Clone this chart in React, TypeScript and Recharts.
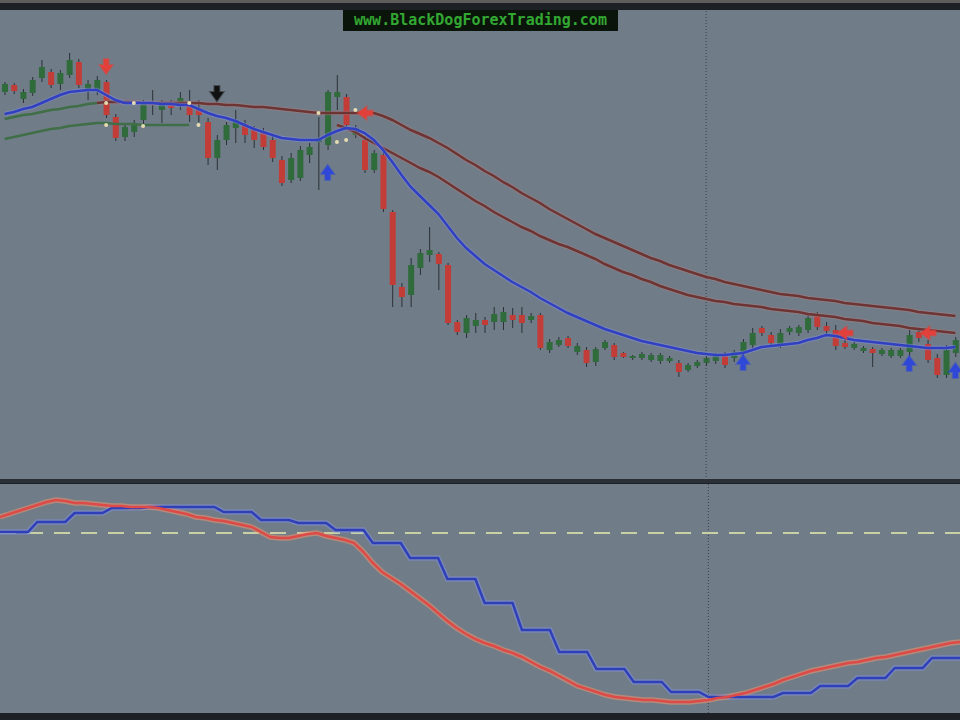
import { ComposedChart, Bar, Line, XAxis, YAxis, ReferenceLine } from 'recharts'

// price panel, one entry per bar (levels in pips above the panel floor)
const CANDLE_OPEN = [
  388, 395, 381, 387, 402, 408, 396, 405, 418, 389,
  390, 398, 363, 343, 348, 360, 378, 370, 377, 374,
  378, 372, 358, 322, 340, 352, 356, 350, 348, 340,
  320, 300, 302, 325, 338, 335, 383, 383, 345, 340,
  310, 325, 268, 193, 185, 212, 225, 226, 215, 158,
  147, 154, 160, 158, 158, 165, 165, 160, 165, 130,
  135, 142, 128, 130, 118, 132, 135, 127, 122, 122,
  120, 119, 119, 117, 110, 114, 117, 119, 125, 122,
  128, 135, 152, 145, 135, 148, 147, 150, 164, 154,
  150, 137, 132, 129, 131, 126, 124, 124, 128, 148,
  136, 122, 105, 127,
]
const CANDLE_HIGH = [
  398, 397, 391, 403, 420, 411, 410, 427, 421, 400,
  404, 400, 366, 356, 360, 380, 390, 380, 380, 388,
  390, 380, 362, 345, 358, 370, 360, 354, 352, 344,
  324, 327, 334, 337, 363, 390, 405, 386, 355, 344,
  330, 328, 270, 197, 222, 231, 253, 228, 217, 160,
  165, 167, 163, 173, 173, 172, 173, 167, 167, 141,
  143, 144, 137, 133, 133, 140, 137, 128, 125, 128,
  127, 127, 124, 120, 117, 120, 124, 127, 128, 130,
  141, 152, 154, 148, 151, 154, 155, 166, 168, 158,
  155, 140, 138, 134, 133, 132, 132, 132, 150, 152,
  140, 126, 135, 143,
]
const CANDLE_LOW = [
  385, 386, 377, 384, 398, 392, 390, 402, 392, 380,
  385, 362, 339, 339, 343, 356, 365, 357, 365, 370,
  358, 358, 315, 310, 335, 337, 337, 332, 330, 318,
  294, 297, 299, 317, 290, 330, 370, 352, 342, 307,
  307, 268, 173, 173, 173, 205, 218, 190, 155, 145,
  142, 147, 147, 150, 150, 152, 147, 157, 130, 127,
  133, 132, 125, 113, 114, 130, 120, 122, 120, 120,
  118, 116, 117, 103, 108, 112, 114, 116, 112, 118,
  124, 132, 144, 134, 132, 145, 144, 147, 150, 146,
  130, 131, 130, 127, 113, 124, 122, 122, 124, 138,
  117, 102, 102, 123,
]
const CANDLE_CLOSE = [
  396, 389, 388, 400, 413, 395, 407, 420, 395, 396,
  400, 365, 342, 353, 357, 378, 375, 376, 372, 382,
  365, 365, 322, 340, 355, 360, 345, 340, 333, 322,
  297, 322, 330, 333, 342, 388, 388, 355, 352, 310,
  327, 271, 195, 183, 215, 227, 230, 216, 157, 148,
  162, 160, 155, 166, 168, 160, 157, 164, 132, 138,
  140, 134, 134, 117, 131, 138, 123, 123, 124, 126,
  125, 125, 122, 108, 115, 118, 122, 125, 115, 128,
  138, 147, 147, 137, 147, 152, 153, 162, 153, 149,
  134, 133, 136, 132, 127, 130, 130, 130, 145, 142,
  120, 105, 130, 140,
]

// fast moving average (blue)
const MA_FAST = [
  366, 368, 371, 373, 377, 381, 385, 388, 389, 390,
  390, 385, 380, 377, 377, 377, 377, 376, 376, 375,
  375, 371, 367, 364, 362, 359, 355, 351, 348, 345,
  342, 341, 340, 340, 340, 345, 349, 352, 351, 347,
  340, 330, 318, 305, 293, 284, 275, 266, 254, 242,
  232, 224, 216, 210, 204, 198, 193, 188, 182, 177,
  172, 167, 163, 159, 155, 151, 148, 145, 142, 139,
  137, 135, 133, 131, 129, 127, 126, 125, 125, 126,
  127, 130, 133, 134, 135, 136, 137, 140, 142, 145,
  144, 142, 140, 139, 138, 137, 136, 135, 134, 133,
  132, 132, 132, 133,
]

// slow averages, green while rising, brown while falling
const UP_GREEN_TO = 10
const UP_GREEN = [361, 363, 365, 366, 368, 370, 371, 373, 374, 376, 377]
const LO_GREEN_TO = 20
const LO_GREEN = [341, 343, 345, 347, 349, 351, 352, 354, 355, 356, 357, 357, 356, 356, 356, 355, 355, 355, 355, 355, 355]

const UP_BROWN_FROM = 10
const UP_BROWN = [
  377, 378, 378, 378, 378, 377, 377, 377, 377, 377,
  377, 377, 376, 376, 375, 375, 374, 373, 373, 372,
  371, 370, 369, 368, 367, 367, 367, 367, 367, 367,
  367, 364, 360, 355, 350, 346, 342, 337, 332, 326,
  320, 315, 309, 304, 298, 293, 287, 282, 277, 271,
  266, 261, 256, 251, 246, 242, 238, 234, 230, 226,
  222, 219, 215, 212, 209, 206, 203, 201, 198, 196,
  194, 192, 190, 188, 186, 185, 184, 182, 181, 180,
  179, 177, 176, 175, 174, 173, 172, 171, 170, 168,
  167, 166, 165, 164,
]
const LO_BROWN_FROM = 36
const LO_BROWN = [
  355, 352, 348, 342,
  337, 332, 327, 322, 317, 312, 308, 303, 297, 291,
  285, 279, 274, 268, 263, 258, 253, 249, 244, 240,
  236, 233, 229, 225, 221, 216, 212, 208, 205, 201,
  198, 194, 191, 188, 185, 183, 181, 179, 178, 176,
  175, 174, 173, 171, 170, 169, 168, 166, 165, 164,
  163, 161, 160, 159, 157, 156, 155, 154, 152, 151,
  150, 149, 148, 147,
]

// signal markers
const SELL_DOWN_BARS = [11]
const SELL_DOWN_LEVEL = [413]
const EXIT_DOWN_BARS = [23]
const EXIT_DOWN_LEVEL = [386]
const BUY_UP_BARS = [35, 80, 98, 103]
const BUY_UP_LEVEL = [308, 118, 117, 110]
const SELL_LEFT_BARS = [39, 91, 100]
const SELL_LEFT_LEVEL = [367, 147, 147]
const CROSS_HI_BARS = [11, 14, 20, 34, 38]
const CROSS_HI_LEVEL = [377, 377, 377, 367, 370]
const CROSS_LO_BARS = [11, 15, 21, 36, 37]
const CROSS_LO_LEVEL = [355, 354, 355, 338, 340]

// oscillator panel
const OSC_MAIN = [
  196, 199, 202, 205, 208, 211, 213, 212, 210, 210,
  209, 208, 207, 207, 206, 206, 206, 205, 203, 201,
  199, 196, 195, 193, 192, 190, 188, 186, 181, 176,
  175, 175, 177, 179, 180, 177, 175, 173, 170, 161,
  150, 141, 135, 129, 122, 115, 108, 100, 92, 85,
  79, 74, 70, 67, 63, 60, 56, 51, 46, 42,
  37, 32, 27, 24, 21, 18, 16, 15, 14, 13,
  13, 12, 11, 11, 11, 12, 13, 15, 16, 18,
  20, 23, 26, 29, 33, 36, 39, 42, 44, 46,
  48, 50, 51, 53, 55, 56, 58, 60, 62, 64,
  66, 68, 70, 71,
]
const OSC_SIGNAL = [
  181, 181, 181, 181, 191, 191, 191, 191, 200, 200,
  200, 200, 205, 205, 205, 205, 206, 206, 206, 206,
  206, 206, 206, 206, 201, 201, 201, 201, 193, 193,
  193, 193, 190, 190, 190, 190, 183, 183, 183, 183,
  170, 170, 170, 170, 155, 155, 155, 155, 134, 134,
  134, 134, 110, 110, 110, 110, 83, 83, 83, 83,
  61, 61, 61, 61, 44, 44, 44, 44, 31, 31,
  31, 31, 21, 21, 21, 21, 16, 16, 16, 16,
  16, 16, 16, 16, 20, 20, 20, 20, 27, 27,
  27, 27, 35, 35, 35, 35, 45, 45, 45, 45,
  55, 55, 55, 55,
]
const OSC_LEVEL = 180
const CURSOR_BAR = 76

const BG = '#707d88'
const DARK = '#1d2125'
const BULL = '#2f6b3b'
const BEAR = '#c33d38'
const WICK = '#2b3035'

const pick = (bars: number[], levels: number[], i: number) => {
  const k = bars.indexOf(i)
  return k >= 0 ? levels[k] : null
}

const rows = CANDLE_OPEN.map((o, i) => ({
  i,
  o,
  h: CANDLE_HIGH[i],
  l: CANDLE_LOW[i],
  c: CANDLE_CLOSE[i],
  fast: MA_FAST[i],
  upGreen: i <= UP_GREEN_TO ? UP_GREEN[i] : null,
  loGreen: i <= LO_GREEN_TO ? LO_GREEN[i] : null,
  upBrown: i >= UP_BROWN_FROM ? UP_BROWN[i - UP_BROWN_FROM] : null,
  loBrown: i >= LO_BROWN_FROM ? LO_BROWN[i - LO_BROWN_FROM] : null,
  sellDown: pick(SELL_DOWN_BARS, SELL_DOWN_LEVEL, i),
  exitDown: pick(EXIT_DOWN_BARS, EXIT_DOWN_LEVEL, i),
  buyUp: pick(BUY_UP_BARS, BUY_UP_LEVEL, i),
  sellLeft: pick(SELL_LEFT_BARS, SELL_LEFT_LEVEL, i),
  crossHi: pick(CROSS_HI_BARS, CROSS_HI_LEVEL, i),
  crossLo: pick(CROSS_LO_BARS, CROSS_LO_LEVEL, i),
  osc: OSC_MAIN[i],
  sig: OSC_SIGNAL[i],
}))

function Candle(props: any) {
  const { x, y, width, height, payload } = props
  if (x == null || y == null || !payload) return <g />
  const top = Math.min(y, y + height)
  const span = Math.abs(height)
  const { o, h, l, c } = payload
  const k = span / (h - l || 1)
  const py = (v: number) => top + (h - v) * k
  const bodyTop = py(Math.max(o, c))
  const bodyH = Math.max(1.5, py(Math.min(o, c)) - bodyTop)
  const cx = x + width / 2
  return (
    <g>
      <line x1={cx} x2={cx} y1={top} y2={top + span} stroke={WICK} strokeWidth={1} />
      <rect x={x} y={bodyTop} width={width} height={bodyH} fill={c >= o ? BULL : BEAR} />
    </g>
  )
}

const marker = (kind: string, color: string) => (props: any) => {
  const { cx, cy, index, value } = props
  if (cx == null || cy == null || value == null) return <g key={`${kind}-${index}`} />
  let pts = ''
  if (kind === 'down') {
    pts = `${cx - 2.5},${cy - 8} ${cx + 2.5},${cy - 8} ${cx + 2.5},${cy - 2} ${cx + 6.5},${cy - 2} ${cx},${cy + 7} ${cx - 6.5},${cy - 2} ${cx - 2.5},${cy - 2}`
  } else if (kind === 'up') {
    pts = `${cx - 2.5},${cy + 8} ${cx + 2.5},${cy + 8} ${cx + 2.5},${cy + 2} ${cx + 6.5},${cy + 2} ${cx},${cy - 7} ${cx - 6.5},${cy + 2} ${cx - 2.5},${cy + 2}`
  } else if (kind === 'left') {
    pts = `${cx + 8},${cy - 2.5} ${cx + 8},${cy + 2.5} ${cx + 2},${cy + 2.5} ${cx + 2},${cy + 6.5} ${cx - 7},${cy} ${cx + 2},${cy - 6.5} ${cx + 2},${cy - 2.5}`
  } else {
    return <circle key={`${kind}-${index}`} cx={cx} cy={cy} r={2} fill={color} />
  }
  return <polygon key={`${kind}-${index}`} points={pts} fill={color} stroke={color} strokeOpacity={0.45} strokeWidth={2} />
}

export default function App() {
  return (
    <div style={{ position: 'fixed', left: 0, top: 0, width: 960, height: 720, background: DARK, overflow: 'hidden' }}>
      <div style={{ position: 'absolute', left: 0, top: 0, width: 960, height: 3, background: '#5f5d5b' }} />

      {/* price panel */}
      <div style={{ position: 'absolute', left: 0, top: 10, width: 960, height: 470, background: BG }}>
        <ComposedChart width={960} height={470} data={rows} margin={{ top: 0, right: 0, bottom: 0, left: 0 }}>
          <XAxis dataKey="i" type="category" hide />
          <YAxis type="number" domain={[0, 470]} hide allowDataOverflow />
          <ReferenceLine x={CURSOR_BAR} stroke="#3a424a" strokeDasharray="1 2" />
          <Line dataKey="upGreen" stroke="#3f6e47" strokeWidth={2.5} dot={false} activeDot={false} isAnimationActive={false} />
          <Line dataKey="loGreen" stroke="#3f6e47" strokeWidth={2.5} dot={false} activeDot={false} isAnimationActive={false} />
          <Line dataKey="upBrown" stroke="#a77d80" strokeOpacity={0.5} strokeWidth={4.5} dot={false} activeDot={false} isAnimationActive={false} />
          <Line dataKey="upBrown" stroke="#6d3434" strokeWidth={2.5} dot={false} activeDot={false} isAnimationActive={false} />
          <Line dataKey="loBrown" stroke="#a77d80" strokeOpacity={0.5} strokeWidth={4.5} dot={false} activeDot={false} isAnimationActive={false} />
          <Line dataKey="loBrown" stroke="#6d3434" strokeWidth={2.5} dot={false} activeDot={false} isAnimationActive={false} />
          <Line dataKey="fast" stroke="#8592dc" strokeOpacity={0.5} strokeWidth={4.5} dot={false} activeDot={false} isAnimationActive={false} />
          <Line dataKey="fast" stroke="#3040c0" strokeWidth={2.5} dot={false} activeDot={false} isAnimationActive={false} />
          <Bar dataKey={(d: any) => [d.l, d.h]} barSize={6} shape={Candle} isAnimationActive={false} />
          <Line dataKey="crossHi" stroke="none" dot={marker('dot', '#e4dbb0')} activeDot={false} isAnimationActive={false} />
          <Line dataKey="crossLo" stroke="none" dot={marker('dot', '#e4dbb0')} activeDot={false} isAnimationActive={false} />
          <Line dataKey="sellDown" stroke="none" dot={marker('down', '#e2403a')} activeDot={false} isAnimationActive={false} />
          <Line dataKey="exitDown" stroke="none" dot={marker('down', '#111111')} activeDot={false} isAnimationActive={false} />
          <Line dataKey="buyUp" stroke="none" dot={marker('up', '#2f48d8')} activeDot={false} isAnimationActive={false} />
          <Line dataKey="sellLeft" stroke="none" dot={marker('left', '#e2403a')} activeDot={false} isAnimationActive={false} />
        </ComposedChart>
      </div>

      <div
        style={{
          position: 'absolute', left: 343, top: 10, width: 275, height: 21, background: '#0b140b',
          color: '#32a832', fontFamily: '"DejaVu Sans Mono", monospace', fontSize: 15, fontWeight: 'bold',
          lineHeight: '21px', textAlign: 'center',
        }}
      >
        www.BlackDogForexTrading.com
      </div>

      <div style={{ position: 'absolute', left: 0, top: 479, width: 960, height: 4, background: '#2a3035' }} />

      {/* oscillator panel */}
      <div style={{ position: 'absolute', left: 0, top: 484, width: 960, height: 229, background: BG }}>
        <ComposedChart width={960} height={229} data={rows} margin={{ top: 0, right: 0, bottom: 0, left: 0 }}>
          <XAxis dataKey="i" type="category" hide />
          <YAxis type="number" domain={[0, 229]} hide allowDataOverflow />
          <ReferenceLine x={CURSOR_BAR} stroke="#3a424a" strokeDasharray="1 2" />
          <ReferenceLine y={OSC_LEVEL} stroke="#c8d1a6" strokeWidth={2} strokeDasharray="16 11" />
          <Line dataKey="sig" stroke="#7f8fe0" strokeOpacity={0.55} strokeWidth={5.5} dot={false} activeDot={false} isAnimationActive={false} />
          <Line dataKey="osc" stroke="#f0946e" strokeOpacity={0.55} strokeWidth={5.5} dot={false} activeDot={false} isAnimationActive={false} />
          <Line dataKey="sig" stroke="#2f3fb8" strokeWidth={2.5} dot={false} activeDot={false} isAnimationActive={false} />
          <Line dataKey="osc" stroke="#dd4a48" strokeWidth={2.5} dot={false} activeDot={false} isAnimationActive={false} />
        </ComposedChart>
      </div>
    </div>
  )
}
